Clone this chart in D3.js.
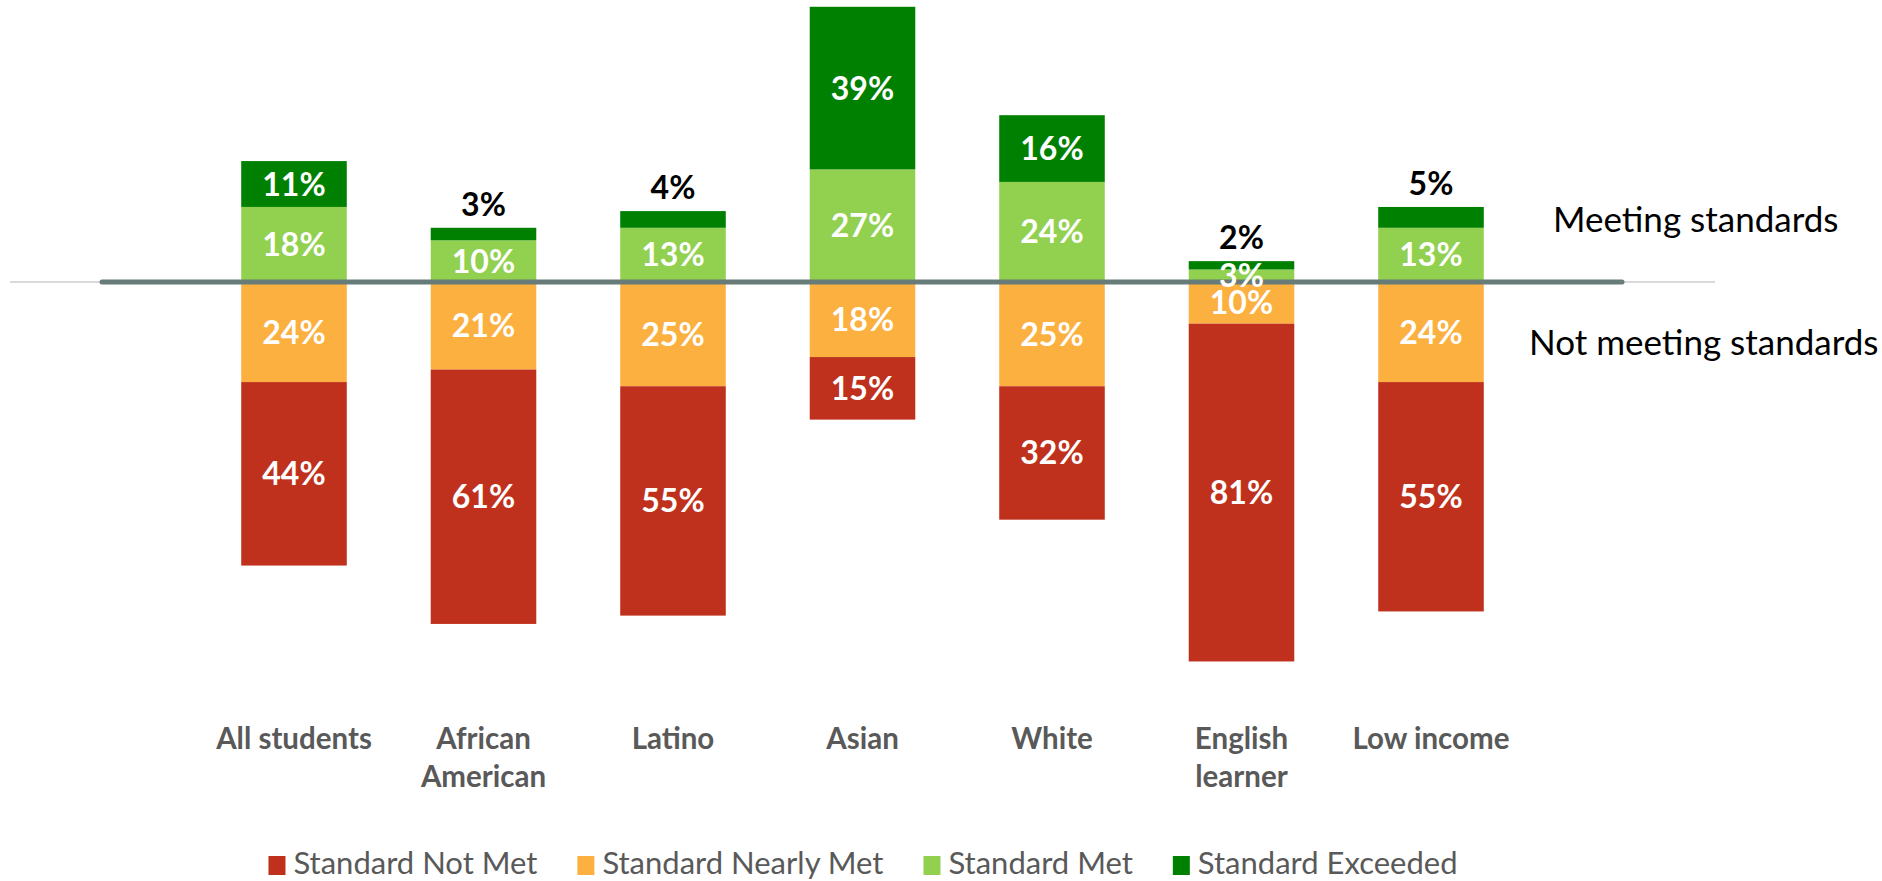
<!DOCTYPE html>
<html>
<head>
<meta charset="utf-8">
<script src="https://cdn.jsdelivr.net/npm/d3@7"></script>
<style>
  body { margin: 0; background: #fff; }
  text { font-family: Lato, "Open Sans", sans-serif; }
</style>
</head>
<body>
<div id="chart"></div>
<script>
// chart values
const categories = ["All students", "African American", "Latino", "Asian", "White", "English learner", "Low income"]
const categoryLines = [["All students"], ["African", "American"], ["Latino"], ["Asian"], ["White"], ["English", "learner"], ["Low income"]]
const notMet    = [44, 61, 55, 15, 32, 81, 55]
const nearlyMet = [24, 21, 25, 18, 25, 10, 24]
const met       = [18, 10, 13, 27, 24,  3, 13]
const exceeded  = [11,  3,  4, 39, 16,  2,  5]
const seriesNames = ["Standard Not Met", "Standard Nearly Met", "Standard Met", "Standard Exceeded"]
const sideLabels = ["Meeting standards", "Not meeting standards"]

var width = 1882, height = 881
var colors = {notMet: "#BF311C", nearlyMet: "#FBB040", met: "#92D050", exceeded: "#008000"}

// negative side goes below the line, nearly met closest to it
var rows = categories.map((c, i) => ({
  cat: c,
  nearlyMet: -nearlyMet[i],
  notMet: -notMet[i],
  met: met[i],
  exceeded: exceeded[i]
}))

var stack = d3.stack()
  .keys(["nearlyMet", "notMet", "met", "exceeded"])
  .offset(d3.stackOffsetDiverging)
var series = stack(rows)

var x = d3.scaleBand()
  .domain(categories)
  .range([199.25, 1525.75])
  .paddingInner(0.443)
  .paddingOuter(0.2215)

var y = d3.scaleLinear()
  .domain([-100, 100])
  .range([699, -135])

var svg = d3.select("#chart")
  .append("svg")
  .attr("width", width)
  .attr("height", height)

// faint full-width zero line, under everything
svg.append("line")
  .attr("x1", 10).attr("x2", 1715)
  .attr("y1", y(0)).attr("y2", y(0))
  .attr("stroke", "#D9D9D9")
  .attr("stroke-width", 2)

svg.append("g")
  .selectAll("g")
  .data(series)
  .join("g")
    .attr("fill", d => colors[d.key])
  .selectAll("rect")
  .data(d => d)
  .join("rect")
    .attr("x", d => x(d.data.cat))
    .attr("width", x.bandwidth())
    .attr("y", d => y(Math.max(d[0], d[1])))
    .attr("height", d => Math.abs(y(d[0]) - y(d[1])))

// the dividing line
svg.append("line")
  .attr("x1", 102).attr("x2", 1622)
  .attr("y1", y(0)).attr("y2", y(0))
  .attr("stroke", "#677B79")
  .attr("stroke-width", 5)
  .attr("stroke-linecap", "round")

// value labels
var labels = []
series.forEach(s => {
  s.forEach(d => {
    var v = Math.abs(d[1] - d[0])
    var outside = s.key == "exceeded" && v <= 5
    labels.push({
      text: v + "%",
      cx: x(d.data.cat) + x.bandwidth() / 2,
      y: outside ? y(Math.max(d[0], d[1])) - 12 : (y(d[0]) + y(d[1])) / 2 + 11.5,
      outside: outside
    })
  })
})

svg.append("g")
  .selectAll("text")
  .data(labels)
  .join("text")
    .attr("x", d => d.cx)
    .attr("y", d => d.y)
    .attr("text-anchor", "middle")
    .attr("font-size", 32)
    .attr("font-weight", "bold")
    .attr("fill", d => d.outside ? "#000" : "#fff")
    .text(d => d.text)

// category labels
var catG = svg.append("g")
  .selectAll("text")
  .data(categories)
  .join("text")
    .attr("text-anchor", "middle")
    .attr("font-size", 29.5)
    .attr("font-weight", "bold")
    .attr("fill", "#595959")
catG.selectAll("tspan")
  .data((d, i) => categoryLines[i].map(t => ({t: t, cat: d})))
  .join("tspan")
    .attr("x", d => x(d.cat) + x.bandwidth() / 2)
    .attr("y", (d, i) => 749 + i * 38)
    .text(d => d.t)

// right side notes
svg.append("text")
  .attr("x", 1553).attr("y", 232)
  .attr("font-size", 35)
  .attr("fill", "#000")
  .text(sideLabels[0])
svg.append("text")
  .attr("x", 1529).attr("y", 355)
  .attr("font-size", 35)
  .attr("fill", "#000")
  .text(sideLabels[1])

// legend, laid out left to right then centred
var legendKeys = ["notMet", "nearlyMet", "met", "exceeded"]
var legend = svg.append("g")
var lx = 0, gap = 40
seriesNames.forEach((name, i) => {
  var item = legend.append("g").attr("transform", `translate(${lx},0)`)
  item.append("rect")
    .attr("x", 0).attr("y", 856)
    .attr("width", 17).attr("height", 19)
    .attr("fill", colors[legendKeys[i]])
  var t = item.append("text")
    .attr("x", 25).attr("y", 874)
    .attr("font-size", 31)
    .attr("fill", "#595959")
    .text(name)
  lx += 25 + t.node().getComputedTextLength() + gap
})
var legendWidth = lx - gap
legend.attr("transform", `translate(${863 - legendWidth / 2},0)`)
</script>
</body>
</html>
